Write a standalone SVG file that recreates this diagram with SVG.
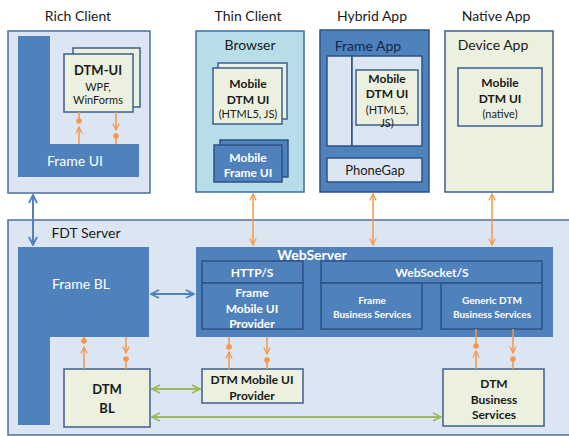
<svg xmlns="http://www.w3.org/2000/svg" width="569" height="436" viewBox="0 0 569 436">
  <defs>
    <style>
      text { font-family: Lato, "Open Sans", "Liberation Sans", sans-serif; text-anchor: middle; dominant-baseline: central; }
      .title { font-size: 14px; fill: #1a1a1a; }
      .lbl { font-size: 13px; fill: #1a1a1a; }
      .wlbl { font-size: 13px; fill: #ffffff; }
      .b { font-weight: bold; }
      .sm { font-size: 11px; }
      .panel { fill: #dce6f2; stroke: #4a6fa0; stroke-width: 1.5; }
      .dark { fill: #4f81bd; stroke: none; }
      .darkb { fill: #4f81bd; stroke: #2e5184; stroke-width: 1.5; }
      .cream { fill: #ebf1de; stroke: #3c5f8e; stroke-width: 1.5; }
      .lightblue { fill: #b7dee8; stroke: #3c6f9e; stroke-width: 1.5; }
      .inner { fill: #dce6f2; stroke: #2e5184; stroke-width: 1.5; }
      .orange { stroke: #f79646; stroke-width: 1.5; fill: none; }
      .green { stroke: #9bbb59; stroke-width: 2; fill: none; }
      .blue { stroke: #4f81bd; stroke-width: 2; fill: none; }
      .dot { fill: #f79646; }
    </style>
    <marker id="ao" viewBox="0 0 10 10" refX="9" refY="5" markerWidth="8" markerHeight="8" orient="auto-start-reverse" markerUnits="userSpaceOnUse">
      <path d="M1,1 L9,5 L1,9" fill="none" stroke="#f79646" stroke-width="1.5"/>
    </marker>
    <marker id="ag" viewBox="0 0 10 10" refX="9" refY="5" markerWidth="10" markerHeight="10" orient="auto-start-reverse" markerUnits="userSpaceOnUse">
      <path d="M1,1 L9,5 L1,9" fill="none" stroke="#9bbb59" stroke-width="1.8"/>
    </marker>
    <marker id="ab" viewBox="0 0 10 10" refX="9" refY="5" markerWidth="10" markerHeight="10" orient="auto-start-reverse" markerUnits="userSpaceOnUse">
      <path d="M1,1 L9,5 L1,9" fill="none" stroke="#4f81bd" stroke-width="1.8"/>
    </marker>
  </defs>

  <rect width="569" height="436" fill="#ffffff"/>

  <!-- Column titles -->
  <g id="titles">
    <text class="title" x="78" y="15">Rich Client</text>
    <text class="title" x="248" y="15">Thin Client</text>
    <text class="title" x="372" y="15">Hybrid App</text>
    <text class="title" x="496" y="15">Native App</text>
  </g>

  <!-- Rich client -->
  <g id="rich-client">
    <rect class="panel" x="8" y="31" width="142" height="162"/>
    <path class="dark" d="M18,36 H50 V144 H139 V177 H18 Z"/>
    <text class="wlbl" x="75" y="160" style="font-size:14px">Frame UI</text>
  </g>
  <g id="dtm-ui">
    <rect class="cream" x="73" y="48" width="67" height="59"/>
    <rect class="cream" x="64" y="54" width="69" height="58"/>
    <text class="lbl b" x="98" y="70">DTM-UI</text>
    <text class="lbl sm" x="98" y="86">WPF,</text>
    <text class="lbl sm" x="98" y="99">WinForms</text>
  </g>

  <!-- Thin client -->
  <g id="browser">
    <rect class="lightblue" x="196" y="31" width="108" height="161"/>
    <text class="title" x="250" y="44">Browser</text>
  </g>
  <g id="browser-dtm-ui">
    <rect class="cream" x="218" y="63" width="69" height="56"/>
    <rect class="cream" x="213" y="68" width="69" height="56"/>
    <text class="lbl b sm" x="248" y="83" style="font-size:12px">Mobile</text>
    <text class="lbl b sm" x="248" y="99" style="font-size:12px">DTM UI</text>
    <text class="lbl sm" x="248" y="113">(HTML5, JS)</text>
  </g>
  <g id="mobile-frame-ui">
    <rect class="darkb" x="220" y="140" width="68" height="37"/>
    <rect class="darkb" x="214" y="145" width="68" height="37"/>
    <text class="wlbl b" x="248" y="157" style="font-size:12px">Mobile</text>
    <text class="wlbl b" x="248" y="172" style="font-size:12px">Frame UI</text>
  </g>

  <!-- Hybrid app -->
  <g id="frame-app">
    <rect class="darkb" x="320" y="30" width="109" height="162"/>
    <text class="title" x="368" y="45" style="fill:#14284b">Frame App</text>
    <rect class="inner" x="327" y="56" width="25" height="90"/>
    <rect class="inner" x="352" y="56" width="70" height="90"/>
  </g>
  <g id="hybrid-dtm-ui">
    <rect class="cream" x="356" y="70" width="62" height="55"/>
    <text class="lbl b" x="387" y="78" style="font-size:12px">Mobile</text>
    <text class="lbl b" x="387" y="93" style="font-size:12px">DTM UI</text>
    <text class="lbl sm" x="387" y="109">(HTML5,</text>
    <text class="lbl sm" x="387" y="122">JS)</text>
  </g>
  <g id="phonegap">
    <rect class="inner" x="327" y="158" width="95" height="24"/>
    <text class="title" x="375" y="170" style="font-size:13px">PhoneGap</text>
  </g>

  <!-- Native app -->
  <g id="device-app">
    <rect class="cream" x="445" y="31" width="108" height="161"/>
    <text class="title" x="493" y="44">Device App</text>
  </g>
  <g id="native-dtm-ui">
    <rect class="cream" x="458" y="68" width="84" height="58"/>
    <text class="lbl b" x="500" y="82" style="font-size:12px">Mobile</text>
    <text class="lbl b" x="500" y="98" style="font-size:12px">DTM UI</text>
    <text class="lbl sm" x="500" y="113">(native)</text>
  </g>

  <!-- FDT server -->
  <g id="fdt-server">
    <rect class="panel" x="8" y="220" width="570" height="215"/>
    <text class="title" x="86" y="232">FDT Server</text>
  </g>
  <g id="frame-bl">
    <path class="dark" d="M18,247 H149 V337 H50 V425 H18 Z"/>
    <text class="wlbl" x="81" y="283" style="font-size:14px">Frame BL</text>
  </g>
  <g id="webserver">
    <rect class="dark" x="196" y="247" width="357" height="90"/>
    <text class="wlbl b" x="312" y="254" style="font-size:14px">WebServer</text>
  </g>
  <g id="http">
    <rect class="darkb" x="202" y="261" width="101" height="22"/>
    <text class="wlbl b sm" x="252" y="272" style="font-size:12px">HTTP/S</text>
  </g>
  <g id="frame-mobile-ui-provider">
    <rect class="darkb" x="202" y="283" width="101" height="46"/>
    <text class="wlbl b" x="252" y="292" style="font-size:12px">Frame</text>
    <text class="wlbl b" x="252" y="308" style="font-size:12px">Mobile UI</text>
    <text class="wlbl b" x="252" y="323" style="font-size:12px">Provider</text>
  </g>
  <g id="websocket">
    <rect class="darkb" x="321" y="261" width="221" height="22"/>
    <text class="wlbl b sm" x="432" y="272" style="font-size:12px">WebSocket/S</text>
  </g>
  <g id="frame-business-services">
    <rect class="darkb" x="321" y="283" width="101" height="46"/>
    <text class="wlbl b" x="372" y="300" style="font-size:10px">Frame</text>
    <text class="wlbl b" x="372" y="314" style="font-size:10px">Business Services</text>
  </g>
  <g id="generic-dtm-business-services">
    <rect class="darkb" x="441" y="283" width="101" height="46"/>
    <text class="wlbl b" x="492" y="300" style="font-size:10px">Generic DTM</text>
    <text class="wlbl b" x="492" y="314" style="font-size:10px">Business Services</text>
  </g>
  <g id="dtm-bl">
    <rect class="cream" x="64" y="369" width="86" height="58"/>
    <text class="lbl b" x="107" y="389">DTM</text>
    <text class="lbl b" x="107" y="408">BL</text>
  </g>
  <g id="dtm-mobile-ui-provider">
    <rect class="cream" x="202" y="369" width="101" height="34"/>
    <text class="lbl b" x="252" y="379" style="font-size:12px">DTM Mobile  UI</text>
    <text class="lbl b" x="252" y="395" style="font-size:12px">Provider</text>
  </g>
  <g id="dtm-business-services">
    <rect class="cream" x="443" y="369" width="101" height="57"/>
    <text class="lbl b" x="494" y="383" style="font-size:12px">DTM</text>
    <text class="lbl b" x="494" y="399" style="font-size:12px">Business</text>
    <text class="lbl b" x="494" y="414" style="font-size:12px">Services</text>
  </g>

  <!-- Connectors -->
  <g id="connectors">
    <!-- Frame UI <-> Frame BL -->
    <line class="blue" x1="33" y1="195" x2="33" y2="245" marker-start="url(#ab)" marker-end="url(#ab)"/>
    <!-- Frame BL <-> WebServer -->
    <line class="blue" x1="151" y1="294" x2="194" y2="294" marker-start="url(#ab)" marker-end="url(#ab)"/>

    <!-- Clients <-> WebServer -->
    <line class="orange" x1="253" y1="194" x2="253" y2="245" marker-start="url(#ao)" marker-end="url(#ao)"/>
    <line class="orange" x1="373" y1="194" x2="373" y2="245" marker-start="url(#ao)" marker-end="url(#ao)"/>
    <line class="orange" x1="492" y1="194" x2="492" y2="245" marker-start="url(#ao)" marker-end="url(#ao)"/>

    <!-- Frame UI / DTM-UI interfaces -->
    <line class="orange" x1="79" y1="144" x2="79" y2="127" marker-end="url(#ao)"/>
    <line class="orange" x1="79" y1="121" x2="79" y2="112"/>
    <circle class="dot" cx="79" cy="121" r="2.8"/>
    <line class="orange" x1="116" y1="112" x2="116" y2="130" marker-end="url(#ao)"/>
    <line class="orange" x1="116" y1="136" x2="116" y2="144"/>
    <circle class="dot" cx="116" cy="136" r="2.8"/>

    <!-- Frame BL / DTM BL interfaces -->
    <line class="orange" x1="84" y1="369" x2="84" y2="347" marker-end="url(#ao)"/>
    <line class="orange" x1="84" y1="341" x2="84" y2="337"/>
    <circle class="dot" cx="84" cy="341" r="2.8"/>
    <line class="orange" x1="126" y1="337" x2="126" y2="353" marker-end="url(#ao)"/>
    <line class="orange" x1="126" y1="359" x2="126" y2="369"/>
    <circle class="dot" cx="126" cy="359" r="2.8"/>

    <!-- Frame Mobile UI Provider / DTM Mobile UI Provider interfaces -->
    <line class="orange" x1="229" y1="369" x2="229" y2="352" marker-end="url(#ao)"/>
    <line class="orange" x1="229" y1="347" x2="229" y2="337"/>
    <circle class="dot" cx="229" cy="347" r="2.8"/>
    <line class="orange" x1="267" y1="337" x2="267" y2="354" marker-end="url(#ao)"/>
    <line class="orange" x1="267" y1="360" x2="267" y2="369"/>
    <circle class="dot" cx="267" cy="360" r="2.8"/>

    <!-- Generic DTM Business Services / DTM Business Services interfaces -->
    <line class="orange" x1="476" y1="369" x2="476" y2="351" marker-end="url(#ao)"/>
    <line class="orange" x1="476" y1="346" x2="476" y2="329"/>
    <circle class="dot" cx="476" cy="346" r="2.8"/>
    <line class="orange" x1="513" y1="329" x2="513" y2="353" marker-end="url(#ao)"/>
    <line class="orange" x1="513" y1="359" x2="513" y2="369"/>
    <circle class="dot" cx="513" cy="359" r="2.8"/>

    <!-- DTM BL <-> DTM providers -->
    <line class="green" x1="152" y1="389" x2="200" y2="389" marker-start="url(#ag)" marker-end="url(#ag)"/>
    <line class="green" x1="152" y1="417" x2="441" y2="417" marker-start="url(#ag)" marker-end="url(#ag)"/>
  </g>
</svg>
